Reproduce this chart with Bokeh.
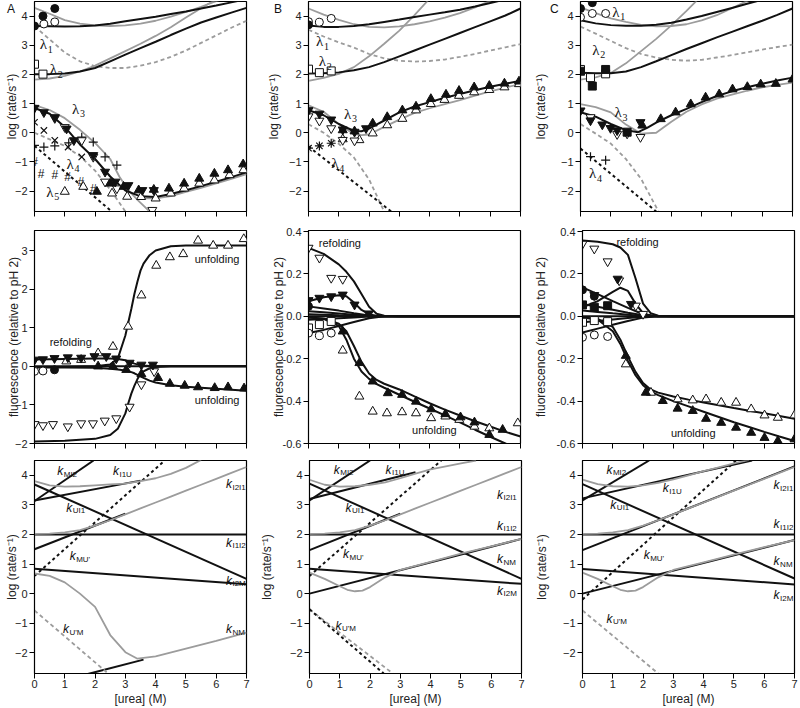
from bokeh.plotting import figure
from bokeh.layouts import row, column
from bokeh.models import Range1d, FixedTicker, Label, NumeralTickFormatter, Div
from bokeh.core.properties import value
from bokeh.embed import file_html
from bokeh.resources import INLINE

# ---------------------------------------------------------------- data
GRID = [0, 0.5, 1, 1.5, 2, 2.5, 3, 3.5, 4, 4.5, 5, 5.5, 6, 6.5, 7]

# ---- panel A, top (rates)
TA_L1_BLACK = [3.66, 3.65, 3.64, 3.65, 3.68, 3.74, 3.82, 3.9, 3.98, 4.07, 4.16, 4.26, 4.36, 4.47, 4.58]
TA_L1_GRAY = [4.28, 4.08, 3.86, 3.74, 3.68, 3.66, 3.68, 3.74, 3.84, 3.98, 4.14, 4.32, 4.51, 4.7, 4.9]
TA_L2_GRAY = [1.82, 1.86, 1.95, 2.1, 2.3, 2.55, 2.8, 3.05, 3.32, 3.62, 3.95, 4.27, 4.58, 4.9, 5.2]
TA_L2_BLACK = [2.01, 2.01, 2.03, 2.1, 2.22, 2.45, 2.68, 2.9, 3.12, 3.35, 3.57, 3.78, 3.95, 4.12, 4.28]
TA_DASH_GRAY = [3.65, 3.2, 2.75, 2.45, 2.28, 2.22, 2.22, 2.3, 2.42, 2.6, 2.82, 3.08, 3.34, 3.6, 3.84]
TA_L3_BLACK = [0.85, 0.65, 0.2, -0.4, -0.9, -1.5, -1.98, -2.18, -2.2, -2.1, -1.97, -1.83, -1.68, -1.52, -1.36]
TA_L3_GRAY_X = [0, 0.5, 1, 1.5, 2, 2.5, 2.8, 3.1, 3.4, 3.8]
TA_L3_GRAY = [0.95, 0.78, 0.5, 0.1, -0.35, -0.9, -1.5, -1.97, -2.3, -2.7]
TA_L3_GRAY2_X = [3.4, 4, 4.5, 5, 5.5, 6, 6.5, 7]
TA_L3_GRAY2 = [-2.25, -2.25, -2.17, -2.03, -1.89, -1.74, -1.58, -1.42]
TA_L4_GRAY_X = [0, 1, 1.5, 2, 2.5, 3.0]
TA_L4_GRAY = [0.0, -0.45, -0.8, -1.3, -1.95, -2.7]
TA_L5_BLACK_X = [0, 2.55]
TA_L5_BLACK = [-0.45, -2.7]
TA_FC_X, TA_FC_Y = [0, 0.28, 0.67], [3.66, 4.0, 4.26]
TA_OC_X, TA_OC_Y = [0.31, 0.67], [3.73, 3.8]
TA_OS_X, TA_OS_Y = [0, 0.28], [2.35, 2.01]
TA_FDT_X = [0, 0.31, 0.67, 1.06, 1.3, 1.94, 2.33, 2.67, 3.1, 3.56, 3.94]
TA_FDT_Y = [0.85, 0.7, 0.53, 0.14, -0.26, -0.77, -1.34, -1.68, -1.8, -1.97, -1.97]
TA_ODT_X = [0.67, 1.0, 1.56, 1.94, 2.33, 2.72, 3.89]
TA_ODT_Y = [0.5, 0.19, -0.26, -0.83, -1.68, -1.91, -2.65]
TA_FUT_X = [2.06, 2.5, 2.94, 3.44, 3.94, 4.44, 4.94, 5.44, 5.94, 6.39, 6.89]
TA_FUT_Y = [-2.02, -1.74, -1.85, -1.97, -1.95, -1.91, -1.74, -1.57, -1.4, -1.28, -1.08]
TA_OUT_X = [1.0, 1.61, 2.56, 3.06, 3.52, 4.0, 4.5, 4.94, 5.44, 5.94, 6.44, 6.9]
TA_OUT_Y = [-2.02, -1.85, -2.08, -2.19, -2.2, -2.25, -2.08, -1.91, -1.74, -1.63, -1.45, -1.28]
TA_X_X, TA_X_Y = [0, 0.31, 0.67, 1.11, 1.56], [0.36, 0.08, -0.26, -0.49, -0.83]
TA_P_X = [0, 0.31, 0.67, 1.13, 1.56, 1.94, 2.33, 2.72]
TA_P_Y = [-0.43, -0.49, -0.45, -0.35, -0.15, -0.32, -0.83, -1.11]
TA_H_X, TA_H_Y = [0, 0.22, 0.67, 1.09, 1.53, 1.94], [-1.0, -1.4, -1.45, -1.51, -1.68, -1.94]

# ---- panel B, top
TB_L1_BLACK = [3.68, 3.63, 3.63, 3.66, 3.72, 3.8, 3.88, 3.97, 4.05, 4.13, 4.22, 4.33, 4.45, 4.57, 4.7]
TB_L1_GRAY = [4.26, 4.05, 3.87, 3.72, 3.63, 3.61, 3.65, 3.72, 3.82, 3.95, 4.1, 4.3, 4.52, 4.75, 5.0]
TB_L2_GRAY_X = [0, 0.5, 1, 1.5, 2, 2.5, 3, 3.5, 4]
TB_L2_GRAY = [1.78, 1.88, 2.02, 2.25, 2.62, 3.05, 3.5, 4.03, 4.6]
TB_L2_BLACK = [2.03, 2.04, 2.07, 2.14, 2.25, 2.42, 2.62, 2.82, 3.02, 3.22, 3.42, 3.62, 3.82, 4.02, 4.26]
TB_DASH_GRAY = [3.53, 3.3, 3.1, 2.92, 2.7, 2.55, 2.47, 2.44, 2.46, 2.51, 2.6, 2.7, 2.82, 2.93, 3.04]
TB_L3_X = [0, 0.5, 1, 1.5, 1.75, 2, 2.5, 3, 3.5, 4, 4.5, 5, 5.5, 6, 6.5, 7]
TB_L3_BLACK = [0.77, 0.6, 0.3, 0.06, 0.05, 0.14, 0.42, 0.7, 0.9, 1.05, 1.2, 1.33, 1.46, 1.58, 1.68, 1.78]
TB_L3_GRAY = [0.94, 0.72, 0.3, -0.05, -0.08, -0.06, 0.2, 0.45, 0.68, 0.84, 0.98, 1.12, 1.27, 1.42, 1.55, 1.67]
TB_L4_GRAY_X = [0, 0.5, 1, 1.5, 2, 2.5]
TB_L4_GRAY = [0.29, 0.0, -0.38, -0.85, -1.6, -2.7]
TB_L4_BLACK_X, TB_L4_BLACK = [0, 2.73], [-0.47, -2.7]
TB_FC_X, TB_FC_Y = [0], [3.7]
TB_OC_X, TB_OC_Y = [0, 0.36, 0.75], [3.81, 3.79, 3.92]
TB_OS_X, TB_OS_Y = [0, 0.36, 0.75], [2.18, 2.06, 2.12]
TB_FDT_X, TB_FDT_Y = [0, 0.36, 0.75, 1.13, 1.52, 1.9], [0.77, 0.65, 0.45, 0.11, 0.03, 0.15]
TB_ODT_X, TB_ODT_Y = [0, 0.36, 0.75, 1.13, 1.52], [0.56, 0.41, 0.15, -0.25, -0.27]
TB_OUT_X = [1.13, 1.68, 2.12, 2.6, 3.1, 3.55, 4.04, 4.49, 4.97, 5.47, 5.97, 6.47, 6.95]
TB_OUT_Y = [-0.22, -0.25, -0.02, 0.26, 0.48, 0.77, 0.99, 1.13, 1.27, 1.39, 1.47, 1.56, 1.67]
TB_FUT_X = [1.13, 1.52, 2.12, 2.6, 3.1, 3.55, 4.04, 4.54, 4.97, 5.47, 5.97, 6.47, 6.95]
TB_FUT_Y = [0.09, 0.05, 0.32, 0.54, 0.77, 0.9, 1.16, 1.31, 1.44, 1.56, 1.61, 1.69, 1.76]
TB_AST_X, TB_AST_Y = [0, 0.36, 0.75], [-0.53, -0.45, -0.36]

# ---- panel C, top
TC_L1_BLACK = [3.86, 3.75, 3.69, 3.67, 3.67, 3.7, 3.77, 3.88, 4.0, 4.14, 4.28, 4.42, 4.56, 4.7, 4.85]
TC_L1_GRAY = [4.3, 4.1, 3.92, 3.8, 3.7, 3.65, 3.66, 3.72, 3.85, 4.03, 4.27, 4.52, 4.78, 5.0, 5.2]
TC_L2_GRAY_X = [0, 0.5, 1, 1.5, 2, 2.5, 3, 3.5, 4]
TC_L2_GRAY = [1.82, 1.9, 2.05, 2.38, 2.8, 3.22, 3.68, 4.18, 4.7]
TC_L2_BLACK = [2.06, 2.04, 2.04, 2.1, 2.25, 2.45, 2.66, 2.87, 3.07, 3.27, 3.46, 3.65, 3.84, 4.04, 4.26]
TC_DASH_GRAY = [3.64, 3.4, 3.15, 2.9, 2.7, 2.58, 2.5, 2.47, 2.5, 2.58, 2.66, 2.76, 2.85, 2.94, 3.02]
TC_L3_BLACK_X = [0, 0.5, 1, 1.5, 1.9, 2.2, 2.5, 3, 3.5, 4, 4.5, 5, 5.5, 6, 6.5, 7]
TC_L3_BLACK = [0.7, 0.55, 0.3, 0.09, 0.02, 0.17, 0.35, 0.6, 0.82, 1.05, 1.26, 1.42, 1.56, 1.68, 1.79, 1.89]
TC_L3_GRAY = [0.98, 0.88, 0.7, 0.28, -0.03, 0.0, 0.38, 0.72, 0.97, 1.17, 1.31, 1.44, 1.56, 1.64, 1.72]
TC_L4_GRAY_X = [0, 0.5, 1, 1.5, 2, 2.5, 2.6]
TC_L4_GRAY = [0.3, -0.03, -0.37, -0.9, -1.58, -2.55, -2.75]
TC_L4_BLACK_X, TC_L4_BLACK = [0, 2.5], [-0.54, -2.7]
TC_FC_X, TC_FC_Y = [0, 0.39], [4.26, 4.46]
TC_OC_X, TC_OC_Y = [0, 0.39, 0.83], [3.96, 4.09, 4.09]
TC_OS_X, TC_OS_Y = [0, 0.33, 0.83], [2.17, 1.89, 2.02]
TC_FS_X, TC_FS_Y = [0, 0.39, 0.83, 1.54], [2.11, 1.6, 2.17, 0.02]
TC_FDT_X, TC_FDT_Y = [0, 0.33, 0.72, 0.99, 1.21, 1.98], [0.76, 0.42, 0.28, 0.16, 0.08, 0.36]
TC_ODT_X, TC_ODT_Y = [0.33, 1.21, 1.54, 1.98], [0.53, -0.05, -0.03, -0.15]
TC_FUT_X = [2.04, 2.65, 3.14, 3.64, 4.13, 4.58, 5.02, 5.51, 5.95, 6.45, 7.0]
TC_FUT_Y = [0.25, 0.47, 0.7, 0.98, 1.21, 1.32, 1.49, 1.57, 1.66, 1.68, 1.83]
TC_P_X, TC_P_Y = [0.33, 0.83], [-0.82, -0.94]

# ---- panel A, middle (fluorescence)
MA_X = [0, 1, 2, 2.5, 2.75, 3, 3.1, 3.2, 3.3, 3.4, 3.5, 3.6, 3.8, 4, 4.5, 5, 6, 7]
MA_UP = [-0.02, -0.02, 0.0, 0.05, 0.2, 0.8, 1.15, 1.5, 1.88, 2.2, 2.48, 2.66, 2.88, 3.0, 3.11, 3.13, 3.13, 3.13]
MA_DN = [-1.95, -1.93, -1.88, -1.78, -1.62, -1.22, -0.95, -0.7, -0.5, -0.33, -0.2, -0.13, -0.05, -0.02, 0, 0, 0, 0]
MA_UNF = [-0.03, -0.03, -0.04, -0.06, -0.08, -0.11, -0.13, -0.15, -0.18, -0.22, -0.26, -0.3, -0.37, -0.42, -0.49, -0.53, -0.58, -0.63]
MA_REF = [0.18, 0.19, 0.2, 0.2, 0.19, 0.16, 0.13, 0.1, 0.07, 0.05, 0.03, 0.02, 0.01, 0, 0, 0, 0, 0]
MA_ZERO_X, MA_ZERO = [0, 7], [0, 0]
MA_OUT_X = [1.05, 1.54, 2.1, 2.59, 3.09, 3.53, 4.02, 4.47, 4.91, 5.4, 5.9, 6.39, 6.91]
MA_OUT_Y = [0.13, 0.17, 0.34, 0.51, 1.03, 1.84, 2.61, 2.83, 2.91, 3.26, 3.13, 3.13, 3.3]
MA_FDT_X = [0, 0.28, 0.66, 1.1, 1.54, 1.98, 2.37, 2.7, 3.14, 3.53, 3.91]
MA_FDT_Y = [0.17, 0.18, 0.21, 0.23, 0.22, 0.26, 0.26, 0.2, 0.09, 0.04, 0.04]
MA_ODT_X = [0, 0.28, 0.61, 1.1, 1.54, 1.93, 2.32, 2.7, 3.14, 3.53, 3.95]
MA_ODT_Y = [-1.5, -1.53, -1.5, -1.56, -1.48, -1.48, -1.41, -1.35, -1.05, -0.47, -0.13]
MA_FUT_X = [2.1, 2.59, 3.03, 3.53, 4.08, 4.47, 4.96, 5.4, 5.95, 6.39, 6.92]
MA_FUT_Y = [0.0, 0.0, -0.09, -0.2, -0.3, -0.45, -0.5, -0.54, -0.56, -0.54, -0.57]
MA_OC_X, MA_OC_Y = [0, 0.28], [-0.13, -0.12]
MA_FC_X, MA_FC_Y = [0.66], [-0.09]

# ---- panel B, middle
MB_X = [0, 0.5, 1, 1.25, 1.5, 1.75, 2, 2.25, 2.5, 3, 3.5, 4, 4.5, 5, 5.5, 6, 6.5, 7]
MB_REF_O = [0.323, 0.295, 0.245, 0.21, 0.165, 0.105, 0.045, 0.012, 0.003, 0, 0, 0, 0, 0, 0, 0, 0, 0]
MB_REF_F = [0.071, 0.09, 0.1, 0.095, 0.065, 0.03, 0.01, 0.002, 0, 0, 0, 0, 0, 0, 0, 0, 0, 0]
MB_UNF1 = [-0.005, -0.01, -0.035, -0.07, -0.14, -0.215, -0.27, -0.3, -0.318, -0.345, -0.378, -0.41, -0.44, -0.468, -0.495, -0.52, -0.545, -0.567]
MB_UNF2 = [-0.005, -0.012, -0.045, -0.11, -0.2, -0.26, -0.295, -0.32, -0.337, -0.37, -0.403, -0.435, -0.467, -0.5, -0.535, -0.568, -0.6, -0.632]
MB_CONV_X = [0, 0.5, 1, 1.5, 2, 2.5, 7]
MB_CONV1 = [0.047, 0.037, 0.027, 0.015, 0.004, 0, 0]
MB_CONV2 = [0.024, 0.019, 0.013, 0.007, 0.002, 0, 0]
MB_CONV3 = [0.01, 0.008, 0.005, 0.003, 0.001, 0, 0]
MB_CONV4 = [-0.016, -0.013, -0.009, -0.005, -0.001, 0, 0]
MB_CONV5 = [-0.079, -0.064, -0.046, -0.027, -0.009, 0, 0]
MB_ODT_X, MB_ODT_Y = [0, 0.36, 0.75, 1.13], [0.323, 0.276, 0.181, 0.176]
MB_FDT_X, MB_FDT_Y = [0, 0.36, 0.75, 1.13, 1.52, 1.99], [0.076, 0.087, 0.094, 0.102, 0.055, 0.013]
MB_FC_X, MB_FC_Y = [0], [0.047]
MB_OS_X, MB_OS_Y = [0, 0.36, 0.75], [-0.055, -0.039, -0.024]
MB_OC_X, MB_OC_Y = [0, 0.36, 0.75], [-0.079, -0.091, -0.079]
MB_OUT_X = [1.13, 1.68, 2.12, 2.59, 3.09, 3.55, 4.05, 4.52, 4.98, 5.48, 5.97, 6.91]
MB_OUT_Y = [-0.161, -0.378, -0.449, -0.457, -0.452, -0.457, -0.48, -0.472, -0.488, -0.52, -0.528, -0.504]
MB_FUT_X = [1.13, 1.68, 2.12, 2.62, 3.09, 3.55, 4.05, 4.52, 5.02, 5.48, 5.97, 6.41]
MB_FUT_Y = [-0.071, -0.22, -0.307, -0.362, -0.37, -0.402, -0.438, -0.461, -0.476, -0.5, -0.559, -0.535]

# ---- panel C, middle
MC_X = [0, 0.5, 1, 1.25, 1.5, 1.75, 2, 2.25, 2.5, 3, 3.5, 4, 4.5, 5, 5.5, 6, 6.5, 7]
MC_REF_O = [0.358, 0.352, 0.34, 0.325, 0.29, 0.18, 0.06, 0.015, 0.003, 0, 0, 0, 0, 0, 0, 0, 0, 0]
MC_REF_F = [0.043, 0.072, 0.115, 0.135, 0.12, 0.06, 0.015, 0.003, 0, 0, 0, 0, 0, 0, 0, 0, 0, 0]
MC_UNF1 = [-0.005, -0.012, -0.05, -0.11, -0.19, -0.262, -0.315, -0.345, -0.36, -0.378, -0.393, -0.407, -0.42, -0.433, -0.445, -0.457, -0.47, -0.483]
MC_UNF2 = [-0.005, -0.015, -0.07, -0.13, -0.21, -0.278, -0.325, -0.355, -0.372, -0.4, -0.425, -0.45, -0.475, -0.5, -0.522, -0.545, -0.567, -0.588]
MC_CONV_X = [0, 0.5, 1, 1.5, 2, 2.5, 7]
MC_CONV1 = [0.137, 0.105, 0.072, 0.04, 0.01, 0, 0]
MC_CONV2 = [0.058, 0.045, 0.031, 0.017, 0.005, 0, 0]
MC_CONV3 = [0.027, 0.021, 0.014, 0.008, 0.002, 0, 0]
MC_CONV4 = [-0.028, -0.022, -0.015, -0.008, -0.002, 0, 0]
MC_CONV5 = [-0.076, -0.058, -0.04, -0.022, -0.006, 0, 0]
MC_ODT_X, MC_ODT_Y = [0, 0.39, 0.83, 1.21, 1.76, 2.0], [0.342, 0.319, 0.259, 0.169, 0.05, 0.011]
MC_FDT_X, MC_FDT_Y = [0.39, 1.16, 1.6], [0.1, 0.177, 0.058]
MC_FC_X, MC_FC_Y = [0, 0.39], [0.125, 0.095]
MC_FS_X, MC_FS_Y = [0, 0.39, 0.83], [0.054, 0.043, 0.05]
MC_OS_X, MC_OS_Y = [0, 0.39, 0.83], [-0.028, -0.02, -0.025]
MC_OC_X, MC_OC_Y = [0, 0.39, 0.83], [-0.099, -0.088, -0.095]
MC_OUT_X = [1.43, 2.26, 3.14, 3.64, 4.08, 4.58, 5.07, 5.57, 6.01, 6.45, 7.0]
MC_OUT_Y = [-0.226, -0.36, -0.391, -0.396, -0.391, -0.407, -0.407, -0.438, -0.467, -0.478, -0.467]
MC_FUT_X = [1.43, 2.09, 2.65, 3.14, 3.64, 4.08, 4.58, 5.07, 5.57, 6.01, 6.45, 7.0]
MC_FUT_Y = [-0.186, -0.36, -0.399, -0.435, -0.446, -0.483, -0.502, -0.525, -0.549, -0.573, -0.588, -0.58]

# ---- bottom panels (microscopic rate constants)
BX_FULL = [0, 7]
KI2I1_GRAY = [2.02, 2.03, 2.07, 2.15, 2.3, 2.48, 2.68, 2.88, 3.08, 3.28, 3.48, 3.68, 3.88, 4.08, 4.28]
BA_KMI2_X, BA_KMI2 = [0, 1.95], [3.13, 4.5]
BA_KI1U_X, BA_KI1U = [0, 3.5], [3.15, 3.82]
BA_KUI1 = [3.69, 0.5]
BA_KI1I2 = [2.0, 2.0]
BA_KMU_X, BA_KMU = [0, 3.0], [1.5, 2.7]
BA_KI2M = [0.84, 0.32]
BA_KNM_X, BA_KNM = [1.76, 3.6], [-2.72, -2.23]
BA_KMU_DASH_X, BA_KMU_DASH = [0, 4.3], [0.6, 4.5]
BA_KUM_DASH_X, BA_KUM_DASH = [0, 2.43], [-0.57, -2.7]
BA_TOP_GRAY_X = [0, 0.5, 1, 1.5, 2, 2.5, 3, 3.5, 4, 4.5, 5, 5.5]
BA_TOP_GRAY = [3.8, 3.66, 3.62, 3.63, 3.66, 3.69, 3.72, 3.8, 3.9, 4.05, 4.25, 4.52]
BA_LOW_GRAY_X = [0, 0.5, 1, 1.5, 2, 2.5, 3, 3.4, 4, 5, 6, 7]
BA_LOW_GRAY = [0.68, 0.6, 0.38, 0.0, -0.45, -1.4, -1.98, -2.2, -2.12, -1.86, -1.6, -1.32]

BB_KMI2_X, BB_KMI2 = [0, 2.0], [3.15, 4.5]
BB_KI1U_X, BB_KI1U = [0, 3.5], [3.2, 4.1]
BB_KUI1 = [3.72, 0.5]
BB_KI1I2 = [2.0, 2.0]
BB_KMU_X, BB_KMU = [0, 3.0], [1.47, 2.7]
BB_KI2M = [0.84, 0.33]
BB_KNM = [0.0, 1.85]
BB_KMU_DASH_X, BB_KMU_DASH = [0, 4.35], [0.6, 4.5]
BB_KUM_DASH_X, BB_KUM_DASH = [0, 2.75], [-0.53, -2.7]
BB_KUM_BLACK_X, BB_KUM_BLACK = [0, 2.45], [-0.53, -2.7]
BB_TOP_GRAY_X = [0, 0.5, 1, 1.5, 2, 2.5, 3, 3.5, 4, 4.5, 5, 5.5]
BB_TOP_GRAY = [3.85, 3.68, 3.62, 3.63, 3.68, 3.76, 3.9, 4.06, 4.2, 4.3, 4.4, 4.5]
BB_LOW_GRAY_X = [0, 0.5, 1, 1.25, 1.5, 1.75, 2, 2.5, 3, 4, 5, 6, 7]
BB_LOW_GRAY = [0.71, 0.5, 0.25, 0.13, 0.08, 0.1, 0.22, 0.55, 0.8, 1.07, 1.35, 1.6, 1.85]

BC_KMI2_X, BC_KMI2 = [0, 2.2], [3.15, 4.5]
BC_KI1U_X, BC_KI1U = [0, 5.6], [3.22, 4.5]
BC_KUI1 = [3.7, 0.51]
BC_KI1I2 = [2.0, 2.0]
BC_KMU_X, BC_KMU = [0, 7], [1.47, 4.3]
BC_KI2M = [0.83, 0.31]
BC_KNM = [0.0, 1.81]
BC_KMU_DASH_X, BC_KMU_DASH = [0, 5.07], [-0.2, 4.5]
BC_KUM_DASH_X, BC_KUM_DASH = [0, 2.5], [-0.57, -2.7]
BC_TOP_GRAY_X = [0, 0.5, 1, 1.5, 2, 2.5, 3, 3.5, 4, 4.5, 5, 5.5]
BC_TOP_GRAY = [3.85, 3.7, 3.63, 3.62, 3.66, 3.74, 3.86, 4.0, 4.14, 4.27, 4.4, 4.52]
BC_LOW_GRAY_X = [0, 0.5, 1, 1.25, 1.5, 1.75, 2, 2.5, 3, 4, 5, 6, 7]
BC_LOW_GRAY = [0.71, 0.5, 0.25, 0.13, 0.08, 0.1, 0.22, 0.55, 0.8, 1.06, 1.32, 1.57, 1.81]

# ---- tick values and texts
X_TICKS = [0, 1, 2, 3, 4, 5, 6, 7]
RATE_TICKS = [-2, -1, 0, 1, 2, 3, 4]
FLA_TICKS = [-2, -1, 0, 1, 2, 3]
FLB_TICKS = [-0.6, -0.4, -0.2, 0.0, 0.2, 0.4]
RATE_LABEL = "log (rate/s\u207b\u00b9)"
FL_LABEL = "fluorescence (relative to pH 2)"
X_LABEL = "[urea] (M)"
PANEL_LETTERS = ["A", "B", "C"]

# ---------------------------------------------------------------- style
BLACK = "#111111"
GRAY = "#9c9c9c"
FONT = "Liberation Sans"
SERIF = "Liberation Serif"
COLS = [(37, 10), (52, 10), (50, 5)]           # (left, right) borders
ROWS = [(1, 210, 8), (11, 213, 8), (9, 213, 35)]  # (top, frame height, bottom)
STANDOFF = [[-7, 5, 10], [-9, -6, 6], [-7, 13, 11]]
LETTER_LEFT = [5, 272, 548]                      # px, page positions of the panel letters


def make_fig(ci, ri, yr, yticks, ylabel, fmt=None, xlabels=False):
    left, right = COLS[ci]
    top, fh, bottom = ROWS[ri]
    p = figure(frame_width=212, frame_height=fh, x_range=Range1d(0, 7), y_range=Range1d(*yr),
               min_border_left=left, min_border_right=right, min_border_top=top,
               min_border_bottom=bottom, output_backend="svg", toolbar_location=None)
    p.xgrid.visible = False
    p.ygrid.visible = False
    p.outline_line_color = "black"
    p.outline_line_width = 1.2
    for ax in (p.xaxis[0], p.yaxis[0]):
        ax.axis_line_color = "black"
        ax.major_tick_line_color = "black"
        ax.major_tick_in = 0
        ax.major_tick_out = 5
        ax.minor_tick_line_color = None
        ax.major_label_text_font = FONT
        ax.major_label_text_font_size = "11px"
        ax.major_label_text_color = "#222222"
        ax.axis_label_text_font = FONT
        ax.axis_label_text_font_size = "12px"
        ax.axis_label_text_font_style = "normal"
        ax.axis_label_text_color = "#222222"
        ax.major_label_standoff = 2
    p.xaxis.ticker = FixedTicker(ticks=X_TICKS)
    p.yaxis.ticker = FixedTicker(ticks=yticks)
    p.yaxis.axis_label = ylabel
    p.yaxis.axis_label_standoff = STANDOFF[ri][ci]
    if fmt:
        p.yaxis.formatter = NumeralTickFormatter(format=fmt)
    if xlabels:
        p.xaxis.axis_label = X_LABEL
        p.xaxis.axis_label_standoff = 1
        p.xaxis.major_label_standoff = 1
    else:
        p.xaxis.major_label_overrides = {t: "" for t in X_TICKS}
        p.xaxis.major_label_text_font_size = "1px"
        p.xaxis.major_label_standoff = 0
    return p


def ln(p, xs, ys, color=BLACK, width=2.0, dash="solid"):
    p.line(xs, ys, line_color=color, line_width=width, line_dash=dash)


def mk(p, xs, ys, marker, filled=False, size=9):
    if marker in ("x", "cross", "asterisk"):
        p.scatter(xs, ys, marker=marker, size=size, line_color=BLACK, line_width=1.2)
    else:
        p.scatter(xs, ys, marker=marker, size=size, line_color=BLACK, line_width=1,
                  fill_color=BLACK if filled else "white")


def lam(p, x, y, n):
    p.add_layout(Label(x=x, y=y, text="\u03bb", text_font=SERIF, text_font_size="15px",
                       text_baseline="middle", text_align="left", text_color=BLACK))
    p.add_layout(Label(x=x, y=y, text=str(n), x_offset=8, y_offset=-5, text_font=SERIF,
                       text_font_size="10px", text_baseline="middle", text_align="left",
                       text_color=BLACK))


def klab(p, x, y, sub):
    p.add_layout(Label(x=x, y=y, text="k", text_font=FONT, text_font_size="12px",
                       text_font_style="italic", text_baseline="middle", text_align="left",
                       text_color=BLACK))
    p.add_layout(Label(x=x, y=y, text=sub, x_offset=6.5, y_offset=-3, text_font=FONT,
                       text_font_size="8px", text_baseline="middle", text_align="left",
                       text_color=BLACK))


def word(p, x, y, t):
    p.add_layout(Label(x=x, y=y, text=t, text_font=FONT, text_font_size="11px",
                       text_baseline="middle", text_align="left", text_color=BLACK))


# ---------------------------------------------------------------- top row
ta = make_fig(0, 0, (-2.7, 4.5), RATE_TICKS, RATE_LABEL)
ln(ta, GRID, TA_L1_GRAY, GRAY, 1.8)
ln(ta, GRID, TA_L2_GRAY, GRAY, 1.8)
ln(ta, GRID, TA_DASH_GRAY, GRAY, 1.8, "4 3")
ln(ta, TA_L3_GRAY_X, TA_L3_GRAY, GRAY, 1.8)
ln(ta, TA_L3_GRAY2_X, TA_L3_GRAY2, GRAY, 1.8)
ln(ta, TA_L4_GRAY_X, TA_L4_GRAY, GRAY, 1.8, "4 3")
ln(ta, GRID, TA_L1_BLACK)
ln(ta, GRID, TA_L2_BLACK)
ln(ta, GRID, TA_L3_BLACK)
ln(ta, TA_L5_BLACK_X, TA_L5_BLACK, BLACK, 2.0, "3 3")
mk(ta, TA_X_X, TA_X_Y, "x")
mk(ta, TA_P_X, TA_P_Y, "cross")
ta.text(x=TA_H_X, y=TA_H_Y, text=["#"] * len(TA_H_X), text_font=value(FONT),
        text_font_size="12px", text_align="center", text_baseline="middle", text_color=BLACK)
mk(ta, TA_OUT_X, TA_OUT_Y, "triangle")
mk(ta, TA_ODT_X, TA_ODT_Y, "inverted_triangle")
mk(ta, TA_FUT_X, TA_FUT_Y, "triangle", True)
mk(ta, TA_FDT_X, TA_FDT_Y, "inverted_triangle", True)
mk(ta, TA_OS_X, TA_OS_Y, "square", size=8)
mk(ta, TA_OC_X, TA_OC_Y, "circle", size=8)
mk(ta, TA_FC_X, TA_FC_Y, "circle", True, size=8)
lam(ta, 0.17, 3.03, 1)
lam(ta, 0.5, 2.18, 2)
lam(ta, 1.24, 0.82, 3)
lam(ta, 1.06, -1.06, 4)
lam(ta, 0.39, -2.02, 5)

tb = make_fig(1, 0, (-2.7, 4.5), RATE_TICKS, RATE_LABEL)
ln(tb, GRID, TB_L1_GRAY, GRAY, 1.8)
ln(tb, TB_L2_GRAY_X, TB_L2_GRAY, GRAY, 1.8)
ln(tb, GRID, TB_DASH_GRAY, GRAY, 1.8, "4 3")
ln(tb, TB_L3_X, TB_L3_GRAY, GRAY, 1.8)
ln(tb, TB_L4_GRAY_X, TB_L4_GRAY, GRAY, 1.8, "4 3")
ln(tb, GRID, TB_L1_BLACK)
ln(tb, GRID, TB_L2_BLACK)
ln(tb, TB_L3_X, TB_L3_BLACK)
ln(tb, TB_L4_BLACK_X, TB_L4_BLACK, BLACK, 2.0, "3 3")
mk(tb, TB_AST_X, TB_AST_Y, "asterisk")
mk(tb, TB_OUT_X, TB_OUT_Y, "triangle")
mk(tb, TB_ODT_X, TB_ODT_Y, "inverted_triangle")
mk(tb, TB_FUT_X, TB_FUT_Y, "triangle", True)
mk(tb, TB_FDT_X, TB_FDT_Y, "inverted_triangle", True)
mk(tb, TB_OS_X, TB_OS_Y, "square", size=8)
mk(tb, TB_OC_X, TB_OC_Y, "circle", size=8)
mk(tb, TB_FC_X, TB_FC_Y, "circle", True, size=8)
lam(tb, 0.25, 3.13, 1)
lam(tb, 0.34, 2.46, 2)
lam(tb, 1.17, 0.65, 3)
lam(tb, 0.75, -1.04, 4)

tc = make_fig(2, 0, (-2.7, 4.5), RATE_TICKS, RATE_LABEL)
ln(tc, GRID, TC_L1_GRAY, GRAY, 1.8)
ln(tc, TC_L2_GRAY_X, TC_L2_GRAY, GRAY, 1.8)
ln(tc, GRID, TC_DASH_GRAY, GRAY, 1.8, "4 3")
ln(tc, GRID, TC_L3_GRAY, GRAY, 1.8)
ln(tc, TC_L4_GRAY_X, TC_L4_GRAY, GRAY, 1.8, "4 3")
ln(tc, GRID, TC_L1_BLACK)
ln(tc, GRID, TC_L2_BLACK)
ln(tc, TC_L3_BLACK_X, TC_L3_BLACK)
ln(tc, TC_L4_BLACK_X, TC_L4_BLACK, BLACK, 2.0, "3 3")
mk(tc, TC_P_X, TC_P_Y, "cross")
mk(tc, TC_ODT_X, TC_ODT_Y, "inverted_triangle")
mk(tc, TC_FUT_X, TC_FUT_Y, "triangle", True)
mk(tc, TC_FDT_X, TC_FDT_Y, "inverted_triangle", True)
mk(tc, TC_OS_X, TC_OS_Y, "square", size=8)
mk(tc, TC_FS_X, TC_FS_Y, "square", True, size=8)
mk(tc, TC_OC_X, TC_OC_Y, "circle", size=8)
mk(tc, TC_FC_X, TC_FC_Y, "circle", True, size=8)
lam(tc, 1.05, 4.15, 1)
lam(tc, 0.39, 2.85, 2)
lam(tc, 1.12, 0.7, 3)
lam(tc, 0.28, -1.39, 4)

# ---------------------------------------------------------------- middle row
ma = make_fig(0, 1, (-2.0, 3.52), FLA_TICKS, FL_LABEL)
ln(ma, MA_ZERO_X, MA_ZERO)
ln(ma, MA_X, MA_UP)
ln(ma, MA_X, MA_DN)
ln(ma, MA_X, MA_UNF)
ln(ma, MA_X, MA_REF)
mk(ma, MA_OUT_X, MA_OUT_Y, "triangle")
mk(ma, MA_ODT_X, MA_ODT_Y, "inverted_triangle")
mk(ma, MA_FUT_X, MA_FUT_Y, "triangle", True)
mk(ma, MA_FDT_X, MA_FDT_Y, "inverted_triangle", True)
mk(ma, MA_OC_X, MA_OC_Y, "circle", size=8)
mk(ma, MA_FC_X, MA_FC_Y, "circle", True, size=8)
word(ma, 0.5, 0.64, "refolding")
word(ma, 5.29, 2.78, "unfolding")
word(ma, 5.29, -0.88, "unfolding")

mb = make_fig(1, 1, (-0.6, 0.405), FLB_TICKS, FL_LABEL, fmt="0.0")
ln(mb, MA_ZERO_X, MA_ZERO)
for cv in (MB_CONV1, MB_CONV2, MB_CONV3, MB_CONV4, MB_CONV5):
    ln(mb, MB_CONV_X, cv)
ln(mb, MB_X, MB_REF_O)
ln(mb, MB_X, MB_REF_F)
ln(mb, MB_X, MB_UNF1)
ln(mb, MB_X, MB_UNF2)
mk(mb, MB_OUT_X, MB_OUT_Y, "triangle")
mk(mb, MB_ODT_X, MB_ODT_Y, "inverted_triangle")
mk(mb, MB_FUT_X, MB_FUT_Y, "triangle", True)
mk(mb, MB_FDT_X, MB_FDT_Y, "inverted_triangle", True)
mk(mb, MB_OS_X, MB_OS_Y, "square", size=8)
mk(mb, MB_OC_X, MB_OC_Y, "circle", size=8)
mk(mb, MB_FC_X, MB_FC_Y, "circle", True, size=8)
word(mb, 0.34, 0.346, "refolding")
word(mb, 3.42, -0.535, "unfolding")

mc = make_fig(2, 1, (-0.6, 0.405), FLB_TICKS, FL_LABEL, fmt="0.0")
ln(mc, MA_ZERO_X, MA_ZERO)
for cv in (MC_CONV1, MC_CONV2, MC_CONV3, MC_CONV4, MC_CONV5):
    ln(mc, MC_CONV_X, cv)
ln(mc, MC_X, MC_REF_O)
ln(mc, MC_X, MC_REF_F)
ln(mc, MC_X, MC_UNF1)
ln(mc, MC_X, MC_UNF2)
mk(mc, MC_OUT_X, MC_OUT_Y, "triangle")
mk(mc, MC_ODT_X, MC_ODT_Y, "inverted_triangle")
mk(mc, MC_FUT_X, MC_FUT_Y, "triangle", True)
mk(mc, MC_FDT_X, MC_FDT_Y, "inverted_triangle", True)
mk(mc, MC_OS_X, MC_OS_Y, "square", size=8)
mk(mc, MC_FS_X, MC_FS_Y, "square", True, size=8)
mk(mc, MC_OC_X, MC_OC_Y, "circle", size=8)
mk(mc, MC_FC_X, MC_FC_Y, "circle", True, size=8)
word(mc, 1.12, 0.35, "refolding")
word(mc, 2.92, -0.552, "unfolding")

# ---------------------------------------------------------------- bottom row
ba = make_fig(0, 2, (-2.7, 4.5), RATE_TICKS, RATE_LABEL, xlabels=True)
ln(ba, BA_KMI2_X, BA_KMI2)
ln(ba, BA_KI1U_X, BA_KI1U)
ln(ba, BX_FULL, BA_KUI1)
ln(ba, BX_FULL, BA_KI1I2)
ln(ba, BA_KMU_X, BA_KMU)
ln(ba, BX_FULL, BA_KI2M)
ln(ba, BA_KNM_X, BA_KNM)
ln(ba, BA_KMU_DASH_X, BA_KMU_DASH, BLACK, 2.0, "3 3")
ln(ba, BA_KUM_DASH_X, BA_KUM_DASH, GRAY, 1.8, "4 3")
ln(ba, BA_TOP_GRAY_X, BA_TOP_GRAY, GRAY, 1.8)
ln(ba, GRID, KI2I1_GRAY, GRAY, 1.8)
ln(ba, BA_LOW_GRAY_X, BA_LOW_GRAY, GRAY, 1.8)
klab(ba, 0.75, 4.14, "MI2")
klab(ba, 2.59, 4.14, "I1U")
klab(ba, 6.32, 3.69, "I2I1")
klab(ba, 1.05, 2.9, "UI1")
klab(ba, 6.32, 1.72, "I1I2")
klab(ba, 1.16, 1.27, "MU'")
klab(ba, 6.32, 0.43, "I2M")
klab(ba, 0.94, -1.2, "U'M")
klab(ba, 6.32, -1.2, "NM")

bb = make_fig(1, 2, (-2.7, 4.5), RATE_TICKS, RATE_LABEL, xlabels=True)
ln(bb, BB_KMI2_X, BB_KMI2)
ln(bb, BB_KI1U_X, BB_KI1U)
ln(bb, BX_FULL, BB_KUI1)
ln(bb, BX_FULL, BB_KI1I2)
ln(bb, BB_KMU_X, BB_KMU)
ln(bb, BX_FULL, BB_KI2M)
ln(bb, BX_FULL, BB_KNM)
ln(bb, BB_KMU_DASH_X, BB_KMU_DASH, BLACK, 2.0, "3 3")
ln(bb, BB_KUM_DASH_X, BB_KUM_DASH, GRAY, 1.8, "4 3")
ln(bb, BB_KUM_BLACK_X, BB_KUM_BLACK, BLACK, 2.0, "3 3")
ln(bb, BB_TOP_GRAY_X, BB_TOP_GRAY, GRAY, 1.8)
ln(bb, GRID, KI2I1_GRAY, GRAY, 1.8)
ln(bb, BB_LOW_GRAY_X, BB_LOW_GRAY, GRAY, 1.8)
klab(bb, 0.8, 4.19, "MI2")
klab(bb, 2.51, 4.19, "I1U")
klab(bb, 6.19, 3.35, "I2I1")
klab(bb, 1.19, 2.9, "UI1")
klab(bb, 6.19, 2.3, "I1I2")
klab(bb, 1.11, 1.33, "MU'")
klab(bb, 6.19, 1.16, "NM")
klab(bb, 6.19, 0.09, "I2M")
klab(bb, 0.86, -1.09, "U'M")

bc = make_fig(2, 2, (-2.7, 4.5), RATE_TICKS, RATE_LABEL, xlabels=True)
ln(bc, BC_KMI2_X, BC_KMI2)
ln(bc, BC_KI1U_X, BC_KI1U)
ln(bc, BX_FULL, BC_KUI1)
ln(bc, BX_FULL, BC_KI1I2)
ln(bc, BC_KMU_X, BC_KMU)
ln(bc, BX_FULL, BC_KI2M)
ln(bc, BX_FULL, BC_KNM)
ln(bc, BC_KMU_DASH_X, BC_KMU_DASH, BLACK, 2.0, "3 3")
ln(bc, BC_KUM_DASH_X, BC_KUM_DASH, GRAY, 1.8, "4 3")
ln(bc, BC_TOP_GRAY_X, BC_TOP_GRAY, GRAY, 1.8)
ln(bc, GRID, KI2I1_GRAY, GRAY, 1.8)
ln(bc, BC_LOW_GRAY_X, BC_LOW_GRAY, GRAY, 1.8)
klab(bc, 0.79, 4.19, "MI2")
klab(bc, 2.65, 3.57, "I1U")
klab(bc, 6.31, 3.66, "I2I1")
klab(bc, 0.92, 3.0, "UI1")
klab(bc, 6.31, 2.34, "I1I2")
klab(bc, 2.02, 1.3, "MU'")
klab(bc, 6.31, 1.1, "NM")
klab(bc, 6.31, -0.06, "I2M")
klab(bc, 0.79, -0.85, "U'M")

# ---------------------------------------------------------------- panel letters (HTML overlay)
letters_html = "".join(
    '<span style="position:absolute;left:%dpx;top:8px;font-family:\'%s\';font-size:12px;'
    'line-height:12px;color:#111;">%s</span>' % (lx, FONT, t)
    for lx, t in zip(LETTER_LEFT, PANEL_LETTERS)
)
letters = Div(text=letters_html, width=800, height=0,
              styles={"position": "relative", "overflow": "visible", "z-index": "10"})

layout = column(letters, row(ta, tb, tc), row(ma, mb, mc), row(ba, bb, bc),
                styles={"margin-left": "-3px", "margin-top": "-10px"})

open("out.html", "w").write(file_html(layout, INLINE, title="kinetics"))
